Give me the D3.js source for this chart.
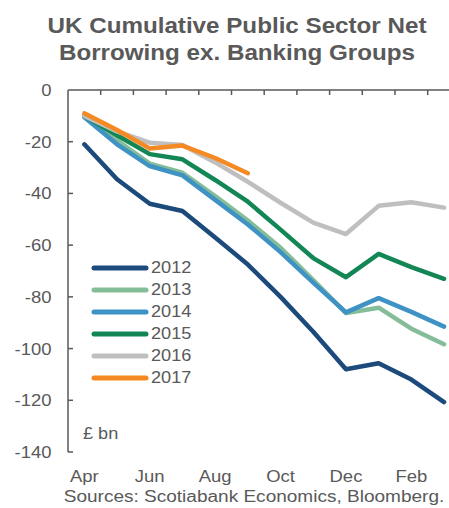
<!DOCTYPE html>
<html>
<head>
<meta charset="utf-8">
<script src="https://cdn.jsdelivr.net/npm/d3@7/dist/d3.min.js"></script>
<style>
  body { margin: 0; background: #fff; }
  text { font-family: "Liberation Sans", Arial, sans-serif; fill: #595959; }
</style>
</head>
<body>
<div id="chart"></div>
<script>
// months of the fiscal year
var months = ["Apr","May","Jun","Jul","Aug","Sep","Oct","Nov","Dec","Jan","Feb","Mar"];
var xLabels = ["Apr","Jun","Aug","Oct","Dec","Feb"];
var yTicks = [0,-20,-40,-60,-80,-100,-120,-140];

// cumulative PSNB ex banking, £bn
var y2012 = [-21,-34.5,-44,-46.8,-57,-67.5,-80,-93.5,-108,-105.7,-112,-120.7];
var y2013 = [-10,-19.5,-28.5,-32,-41,-50.5,-61,-73.5,-86.3,-84.2,-92.3,-98.3];
var y2014 = [-10.5,-21,-29.4,-33,-42.5,-52,-62.7,-74.5,-86,-80.5,-85.8,-91.5];
var y2015 = [-10,-17.5,-24.8,-26.8,-34.8,-43.2,-54,-65,-72.4,-63.4,-68.5,-73];
var y2016 = [-10,-16,-20.4,-21.3,-28,-35.5,-43.6,-51.3,-55.7,-44.8,-43.4,-45.5];
var y2017 = [-9,-15.5,-22.6,-21.5,-26.3,-32.2];

var series = [
  {name:"2012", values:y2012, color:"#1b4a7b"},
  {name:"2013", values:y2013, color:"#84bd98"},
  {name:"2014", values:y2014, color:"#3f92c4"},
  {name:"2015", values:y2015, color:"#138656"},
  {name:"2016", values:y2016, color:"#bfbfbf"},
  {name:"2017", values:y2017, color:"#f58a24"}
];

var W = 449, H = 508;
var svg = d3.select("#chart").append("svg").attr("width",W).attr("height",H);

var xBand = d3.scaleBand().domain(months).range([68, 68 + 12*32.7]);
function xPos(m) { return xBand(m) + xBand.bandwidth()/2; }
var yScale = d3.scaleLinear().domain([-140,0]).range([452,90]);

// the original's text is a bit wider than the font, stretch it
var stretch = 1.1;
function place(sel, fx, fy) {
  sel.attr("transform", function(d,i){
    var x = typeof fx === "function" ? fx(d,i) : fx;
    var y = typeof fy === "function" ? fy(d,i) : fy;
    return "translate(" + x + "," + y + ") scale(" + stretch + ",1)";
  });
  return sel;
}

// title
place(svg.append("text"),237,33).attr("text-anchor","middle")
  .style("font-size","22px").style("font-weight","bold").text("UK Cumulative Public Sector Net");
place(svg.append("text"),237,59.5).attr("text-anchor","middle")
  .style("font-size","22px").style("font-weight","bold").text("Borrowing ex. Banking Groups");

// axes
var axisColor = "#595959";
svg.append("line").attr("x1",68).attr("x2",68).attr("y1",90).attr("y2",452)
  .attr("stroke",axisColor).attr("stroke-width",1.5);
svg.append("line").attr("x1",68).attr("x2",W).attr("y1",90).attr("y2",90)
  .attr("stroke",axisColor).attr("stroke-width",1.5);

// y ticks (pointing inward)
svg.selectAll(".ytick").data(yTicks.slice(1)).enter().append("line")
  .attr("x1",68).attr("x2",73)
  .attr("y1",function(d){return yScale(d);}).attr("y2",function(d){return yScale(d);})
  .attr("stroke",axisColor).attr("stroke-width",1.5);
place(svg.selectAll(".ylab").data(yTicks).enter().append("text"),
    51.5, function(d){return yScale(d)+6;})
  .attr("text-anchor","end").style("font-size","16.8px")
  .text(function(d){return d;});

// x ticks at band boundaries on the zero line
var xTickPos = months.slice(1).map(function(m){return xBand(m);});
svg.selectAll(".xtick").data(xTickPos).enter().append("line")
  .attr("x1",function(d){return d;}).attr("x2",function(d){return d;})
  .attr("y1",90).attr("y2",95)
  .attr("stroke",axisColor).attr("stroke-width",1.5);
place(svg.selectAll(".xlab").data(xLabels).enter().append("text"),
    function(d){return xPos(d);}, 482)
  .attr("text-anchor","middle").style("font-size","16.8px")
  .text(function(d){return d;});

// lines
var line = d3.line()
  .x(function(d,i){return xPos(months[i]);})
  .y(function(d){return yScale(d);});

svg.selectAll(".series").data(series).enter().append("path")
  .attr("d",function(d){return line(d.values);})
  .attr("fill","none")
  .attr("stroke",function(d){return d.color;})
  .attr("stroke-width",4.5)
  .attr("stroke-linejoin","round")
  .attr("stroke-linecap","round");

// legend
var leg = svg.selectAll(".leg").data(series).enter().append("g")
  .attr("transform",function(d,i){return "translate(0," + (268 + i*22) + ")";});
leg.append("line").attr("x1",94).attr("x2",146).attr("y1",0).attr("y2",0)
  .attr("stroke",function(d){return d.color;}).attr("stroke-width",5)
  .attr("stroke-linecap","round");
place(leg.append("text"),151,5).style("font-size","16.5px")
  .text(function(d){return d.name;});

place(svg.append("text"),83,439).style("font-size","16.5px").text("£ bn");

place(svg.append("text"),254,502).attr("text-anchor","middle")
  .style("font-size","17.3px").text("Sources: Scotiabank Economics, Bloomberg.");
</script>
</body>
</html>
